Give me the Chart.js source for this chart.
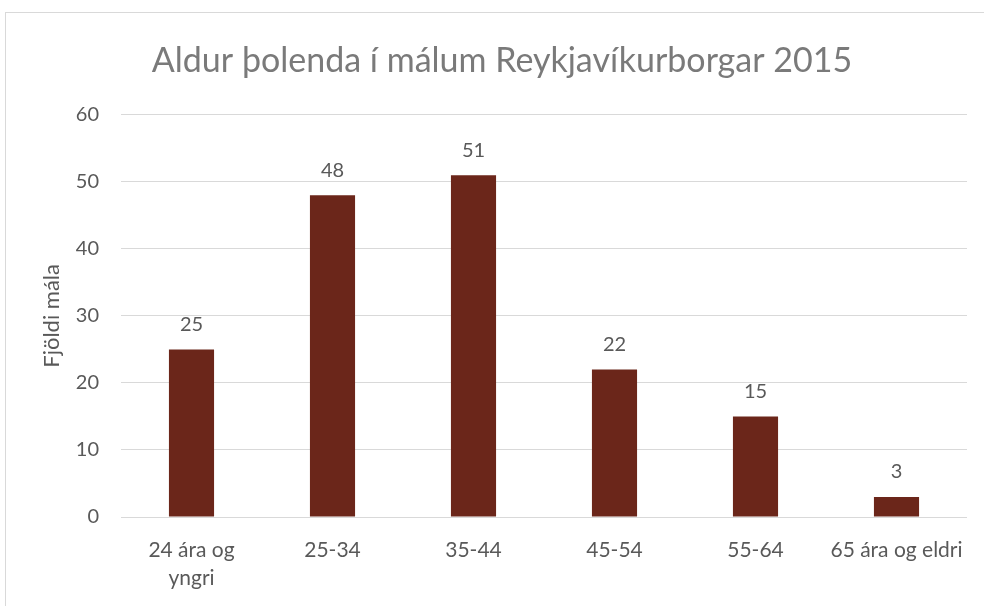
<!DOCTYPE html>
<html>
<head>
<meta charset="utf-8">
<script src="https://cdn.jsdelivr.net/npm/chart.js@4.4.1/dist/chart.umd.min.js"></script>
<style>
  html, body { margin: 0; padding: 0; background: #ffffff; }
  #wrap { position: relative; width: 984px; height: 606px; }
</style>
</head>
<body>
<div id="wrap"><canvas id="ageChart" width="984" height="606"></canvas></div>
<script>
let ageGroups = [["24 ára og", "yngri"], "25-34", "35-44", "45-54", "55-64", "65 ára og eldri"];
let caseCounts = [25, 48, 51, 22, 15, 3];
let yTicks = [0, 10, 20, 30, 40, 50, 60];

let barColor = "#6b261a";
let textGray = "#595959";
let gridGray = "#d9d9d9";

// frame round the chart like the excel export
const framePlugin = {
    id: "frame",
    beforeDraw(chart) {
        let ctx = chart.ctx;
        ctx.save();
        ctx.strokeStyle = gridGray;
        ctx.lineWidth = 1;
        ctx.strokeRect(5.5, 12.5, 1000, 620);
        ctx.restore();
    }
};

// numbers above each bar
const valueLabels = {
    id: "valueLabels",
    afterDatasetsDraw(chart) {
        let ctx = chart.ctx;
        let meta = chart.getDatasetMeta(0);
        ctx.save();
        ctx.font = "20px Lato";
        ctx.fillStyle = textGray;
        ctx.textAlign = "center";
        ctx.textBaseline = "middle";
        meta.data.forEach(function (bar, i) {
            ctx.fillText(caseCounts[i], bar.x, bar.y - 25);
        });
        ctx.restore();
    }
};

let ageChart = new Chart("ageChart", {
    type: "bar",
    data: {
        labels: ageGroups,
        datasets: [{
            data: caseCounts,
            backgroundColor: barColor,
            categoryPercentage: 1,
            barPercentage: 0.32
        }]
    },
    options: {
        responsive: false,
        animation: false,
        // left padding bigger than right so the title sits centred on the frame
        layout: { padding: { left: 37, right: 17, top: 0, bottom: 0 } },
        plugins: {
            legend: { display: false },
            tooltip: { enabled: false },
            title: {
                display: true,
                text: "Aldur þolenda í málum Reykjavíkurborgar 2015",
                color: "#7a7a7a",
                font: { family: "Lato", size: 34, weight: "normal", lineHeight: 1.2 },
                padding: { top: 41, bottom: 33 }
            }
        },
        scales: {
            x: {
                grid: { display: false },
                border: { display: false },
                ticks: {
                    color: textGray,
                    font: { family: "Lato", size: 21, lineHeight: 1.3 },
                    maxRotation: 0,
                    autoSkip: false,
                    padding: 12
                },
                afterFit(scale) { scale.height = 89; }
            },
            y: {
                min: 0,
                max: 60,
                afterBuildTicks(scale) {
                    scale.ticks = yTicks.map(v => ({ value: v }));
                },
                grid: { color: gridGray, drawTicks: false },
                border: { display: false },
                ticks: {
                    color: textGray,
                    font: { family: "Lato", size: 20 },
                    padding: 22
                },
                title: {
                    display: true,
                    text: "Fjöldi mála",
                    color: textGray,
                    font: { family: "Lato", size: 22 },
                    padding: { top: 2 }
                },
                afterFit(scale) { scale.width = 84; }
            }
        }
    },
    plugins: [framePlugin, valueLabels]
});
</script>
</body>
</html>
